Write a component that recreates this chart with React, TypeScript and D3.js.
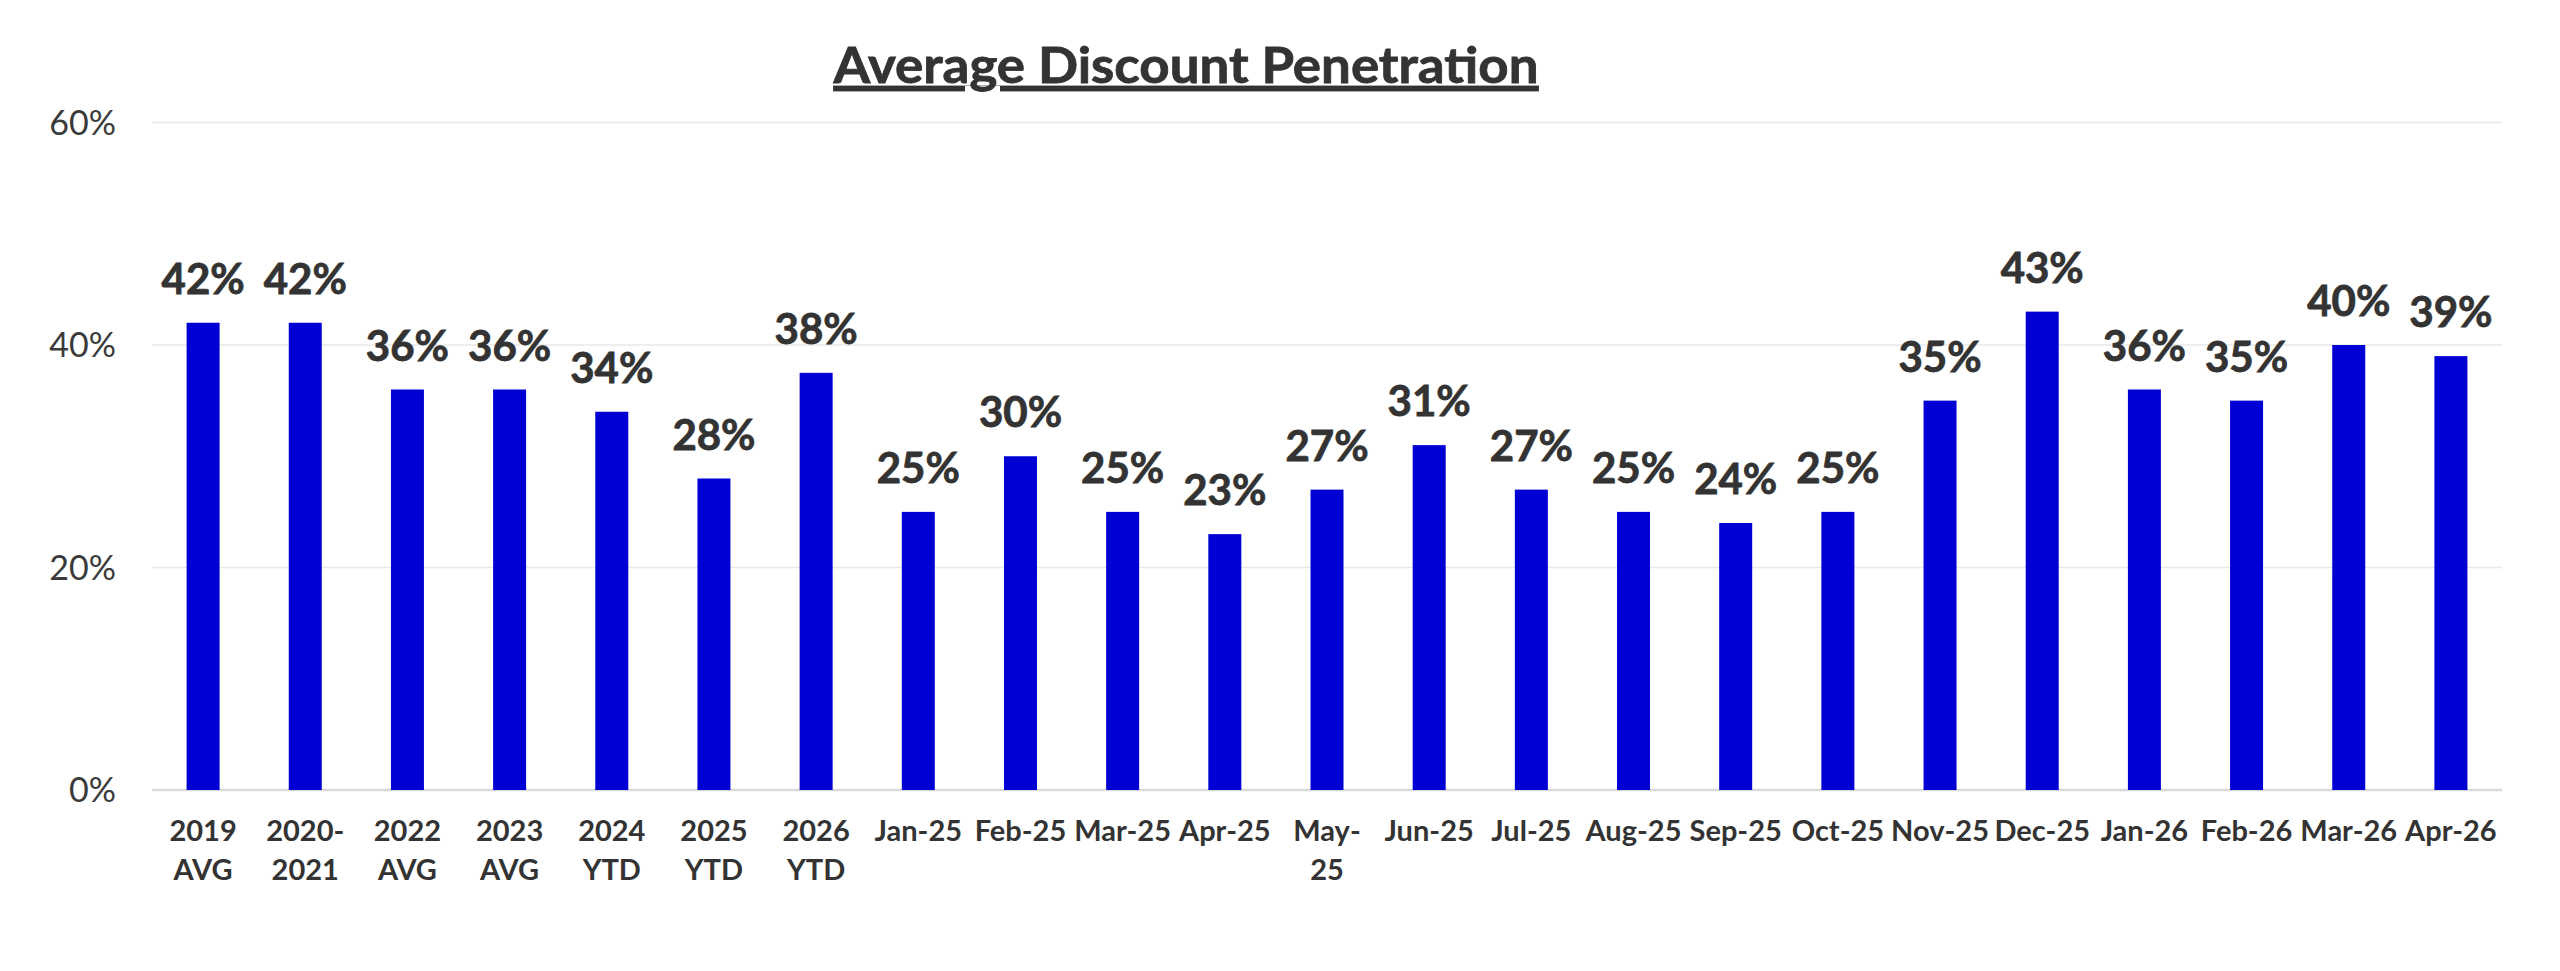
import { useEffect, useRef } from 'react';
import * as d3 from 'd3';

const categories = [
  '2019 AVG', '2020-2021', '2022 AVG', '2023 AVG', '2024 YTD', '2025 YTD', '2026 YTD',
  'Jan-25', 'Feb-25', 'Mar-25', 'Apr-25', 'May-25', 'Jun-25', 'Jul-25', 'Aug-25',
  'Sep-25', 'Oct-25', 'Nov-25', 'Dec-25', 'Jan-26', 'Feb-26', 'Mar-26', 'Apr-26',
];

// tick labels as Excel wrapped them
const tickLines = [
  ['2019', 'AVG'], ['2020-', '2021'], ['2022', 'AVG'], ['2023', 'AVG'], ['2024', 'YTD'],
  ['2025', 'YTD'], ['2026', 'YTD'], ['Jan-25'], ['Feb-25'], ['Mar-25'], ['Apr-25'],
  ['May-', '25'], ['Jun-25'], ['Jul-25'], ['Aug-25'], ['Sep-25'], ['Oct-25'], ['Nov-25'],
  ['Dec-25'], ['Jan-26'], ['Feb-26'], ['Mar-26'], ['Apr-26'],
];

const penetration = [
  42, 42, 36, 36, 34, 28, 37.5,
  25, 30, 25, 23, 27, 31, 27, 25,
  24, 25, 35, 43, 36, 35, 40, 39,
];

const yTicks = [0, 20, 40, 60];

const FONT = "Lato, 'Open Sans', sans-serif";

export default function App() {
  const svgRef = useRef<SVGSVGElement>(null);

  useEffect(() => {
    if (!svgRef.current) return;
    const svg = d3.select(svgRef.current);
    svg.selectAll('*').remove();

    const left = 152;
    const right = 2502;
    const top = 122.5;
    const bottom = 790;

    const x = d3.scaleBand<string>()
      .domain(categories)
      .range([left, right])
      .paddingInner(0.677)
      .paddingOuter(0.677 / 2);

    const y = d3.scaleLinear().domain([0, 60]).range([bottom, top]);

    // gridlines
    svg.append('g')
      .selectAll('line')
      .data(yTicks)
      .join('line')
      .attr('x1', left)
      .attr('x2', right)
      .attr('y1', d => y(d))
      .attr('y2', d => y(d))
      .attr('stroke', d => (d === 0 ? '#d9d9d9' : '#e8e8e8'))
      .attr('stroke-width', d => (d === 0 ? 2.5 : 1.5));

    // y tick labels
    svg.append('g')
      .selectAll('text')
      .data(yTicks)
      .join('text')
      .attr('x', 116)
      .attr('y', d => y(d))
      .attr('dy', '0.36em')
      .attr('text-anchor', 'end')
      .attr('font-family', FONT)
      .attr('font-size', 34)
      .attr('fill', '#3a3a3a')
      .text(d => `${d}%`);

    // bars
    svg.append('g')
      .selectAll('rect')
      .data(penetration)
      .join('rect')
      .attr('x', (_, i) => x(categories[i])!)
      .attr('width', x.bandwidth())
      .attr('y', d => y(d))
      .attr('height', d => y(0) - y(d))
      .attr('fill', '#0000d4');

    // value labels
    svg.append('g')
      .selectAll('text')
      .data(penetration)
      .join('text')
      .attr('x', (_, i) => x(categories[i])! + x.bandwidth() / 2)
      .attr('y', d => y(d) - 29)
      .attr('text-anchor', 'middle')
      .attr('font-family', FONT)
      .attr('font-weight', 700)
      .attr('font-size', 42)
      .attr('fill', '#333')
      .attr('stroke', '#333')
      .attr('stroke-width', 0.8)
      .text(d => `${Math.round(d)}%`);

    // category labels
    const xl = svg.append('g')
      .selectAll('text')
      .data(tickLines)
      .join('text')
      .attr('x', (_, i) => x(categories[i])! + x.bandwidth() / 2)
      .attr('y', bottom + 51)
      .attr('text-anchor', 'middle')
      .attr('font-family', FONT)
      .attr('font-weight', 700)
      .attr('font-size', 29)
      .attr('fill', '#333');
    xl.each(function (lines, i) {
      const t = d3.select(this);
      lines.forEach((ln, j) => {
        t.append('tspan')
          .attr('x', x(categories[i])! + x.bandwidth() / 2)
          .attr('dy', j === 0 ? 0 : 39)
          .text(ln);
      });
    });

    // title
    svg.append('text')
      .attr('x', 1186)
      .attr('y', 83)
      .attr('text-anchor', 'middle')
      .attr('font-family', FONT)
      .attr('font-weight', 700)
      .attr('font-size', 50)
      .attr('textLength', 705)
      .attr('lengthAdjust', 'spacingAndGlyphs')
      .attr('fill', '#333')
      .attr('stroke', '#333')
      .attr('stroke-width', 0.8)
      .attr('text-decoration', 'underline')
      .text('Average Discount Penetration');
  }, []);

  return (
    <svg
      ref={svgRef}
      width={2560}
      height={971}
      style={{ position: 'absolute', left: 0, top: 0, background: '#fff' }}
    ></svg>
  );
}
